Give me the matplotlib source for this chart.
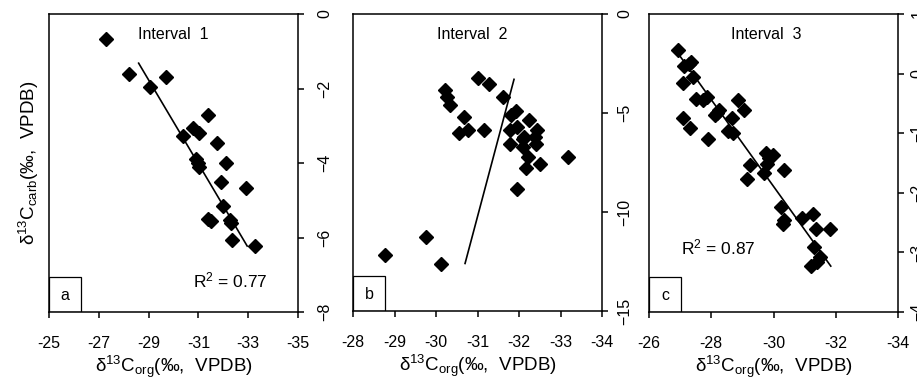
import numpy as np
import matplotlib
matplotlib.use("Agg")
import matplotlib.pyplot as plt
from matplotlib.patches import Rectangle

plt.rcParams['font.family'] = ['Liberation Sans', 'DejaVu Sans']
plt.rcParams['mathtext.fontset'] = 'custom'
plt.rcParams['mathtext.rm'] = 'Liberation Sans'
plt.rcParams['mathtext.it'] = 'Liberation Sans'

# interval 1
a_x = [-27.29, -28.23, -29.69, -29.07, -31.39, -30.80, -31.02, -30.37, -31.73, -30.89,
       -31.02, -30.97, -32.11, -31.90, -32.92, -32.00, -31.40, -31.50, -32.27, -32.30,
       -32.34, -33.26]
a_y = [-0.68, -1.61, -1.70, -1.97, -2.70, -3.07, -3.20, -3.28, -3.45, -3.90,
       -4.10, -4.00, -3.99, -4.50, -4.68, -5.15, -5.50, -5.55, -5.53, -5.60,
       -6.08, -6.23]
a_fit_x = [-28.60, -32.96]
a_fit_y = [-1.32, -6.23]

# interval 2
b_x = [-31.02, -31.28, -31.62, -30.22, -30.26, -30.34, -30.67, -30.55, -30.76, -31.16,
       -31.80, -31.93, -32.24, -31.78, -31.96, -32.44, -32.12, -32.39, -31.78, -32.09,
       -32.41, -32.22, -32.16, -32.51, -33.19, -31.94, -29.76, -28.77, -30.11, -32.09]
b_y = [-3.25, -3.54, -4.18, -3.84, -4.18, -4.60, -5.22, -5.99, -5.86, -5.86,
       -5.10, -4.90, -5.35, -5.86, -5.69, -5.86, -6.20, -6.20, -6.57, -6.73,
       -6.58, -7.21, -7.79, -7.58, -7.21, -8.84, -11.28, -12.17, -12.63, -6.33]
b_fit_x = [-30.70, -31.88]
b_fit_y = [-12.60, -3.30]

# interval 3
c_x = [-26.92, -27.34, -27.12, -27.42, -27.08, -27.51, -27.74, -27.85, -28.87, -29.05,
       -28.25, -28.12, -28.66, -27.10, -27.32, -27.91, -28.53, -28.71, -29.76, -29.99,
       -29.78, -29.24, -30.35, -29.69, -29.16, -30.23, -30.34, -30.31, -30.91, -31.26,
       -31.37, -31.82, -31.30, -31.49, -31.20, -31.39, -29.85, -28.20, -27.30]
c_y = [0.40, 0.20, 0.12, -0.05, -0.16, -0.43, -0.44, -0.39, -0.44, -0.61,
       -0.61, -0.69, -0.75, -0.75, -0.92, -1.10, -0.96, -1.00, -1.33, -1.37,
       -1.51, -1.53, -1.61, -1.67, -1.77, -2.23, -2.46, -2.52, -2.42, -2.36,
       -2.61, -2.61, -2.91, -3.08, -3.22, -3.16, -1.42, -0.66, 0.16]
c_fit_x = [-26.89, -31.84]
c_fit_y = [0.37, -3.23]

panels = [
    dict(x=a_x, y=a_y, fx=a_fit_x, fy=a_fit_y, xlim=(-25, -35), xt=[-25, -27, -29, -31, -33, -35],
         ylim=(-8, 0), yt=[0, -2, -4, -6, -8], title='Interval  1', tpos=(0.5, 0.93),
         r2='R$^2$ = 0.77', rpos=(0.73, 0.107), tag='a', ypad=10,
         pos=[49 / 917, 1 - 312 / 383, 249 / 917, 298 / 383]),
    dict(x=b_x, y=b_y, fx=b_fit_x, fy=b_fit_y, xlim=(-28, -34), xt=[-28, -29, -30, -31, -32, -33, -34],
         ylim=(-15, 0), yt=[0, -5, -10, -15], title='Interval  2', tpos=(0.478, 0.93),
         r2=None, rpos=None, tag='b', ypad=7,
         pos=[353 / 917, 1 - 311 / 383, 249 / 917, 297 / 383]),
    dict(x=c_x, y=c_y, fx=c_fit_x, fy=c_fit_y, xlim=(-26, -34), xt=[-26, -28, -30, -32, -34],
         ylim=(-4, 1), yt=[1, 0, -1, -2, -3, -4], title='Interval  3', tpos=(0.47, 0.93),
         r2='R$^2$ = 0.87', rpos=(0.28, 0.218), tag='c', ypad=5,
         pos=[649 / 917, 1 - 312 / 383, 249 / 917, 298 / 383]),
]

fig = plt.figure(figsize=(9.17, 3.83), dpi=100)

for i, p in enumerate(panels):
    ax = fig.add_axes(p['pos'])
    ax.plot(p['x'], p['y'], 'D', color='black', ms=7.2, mec='black')
    ax.plot(p['fx'], p['fy'], '-', color='black', lw=1.2)
    ax.set_xlim(*p['xlim'])
    ax.set_ylim(*p['ylim'])
    ax.set_xticks(p['xt'])
    ax.set_xticklabels([str(v) for v in p['xt']])
    ax.yaxis.tick_right()
    ax.set_yticks(p['yt'])
    ax.tick_params(axis='x', direction='out', length=4, width=1.1, pad=13, labelsize=11.5)
    ax.tick_params(axis='y', direction='out', length=4, width=1.1, pad=p['ypad'],
                   labelsize=11.5, labelrotation=90)
    for lab in ax.get_yticklabels():
        lab.set_va('center')
    for s in ax.spines.values():
        s.set_linewidth(1.1)
    ax.text(*p['tpos'], p['title'], transform=ax.transAxes, ha='center', va='center', fontsize=11.5)
    if p['r2']:
        ax.text(*p['rpos'], p['r2'], transform=ax.transAxes, ha='center', va='center', fontsize=12.5)
    ax.add_patch(Rectangle((0, 0), 32 / 249, 35 / 298, transform=ax.transAxes,
                           fill=False, lw=0.9, ec='black', zorder=5))
    ax.text(16 / 249, 17 / 298, p['tag'], transform=ax.transAxes, ha='center', va='center', fontsize=11.5)
    ax.set_xlabel(r'δ$^{13}$C$_{\rm org}$(‰,  VPDB)', fontsize=13.5, labelpad=2.5)
    if i == 0:
        ax.yaxis.set_label_position('left')
        ax.set_ylabel(r'δ$^{13}$C$_{\rm carb}$(‰,  VPDB)', fontsize=13.5, labelpad=6)

fig.savefig('out.png', dpi=100)
